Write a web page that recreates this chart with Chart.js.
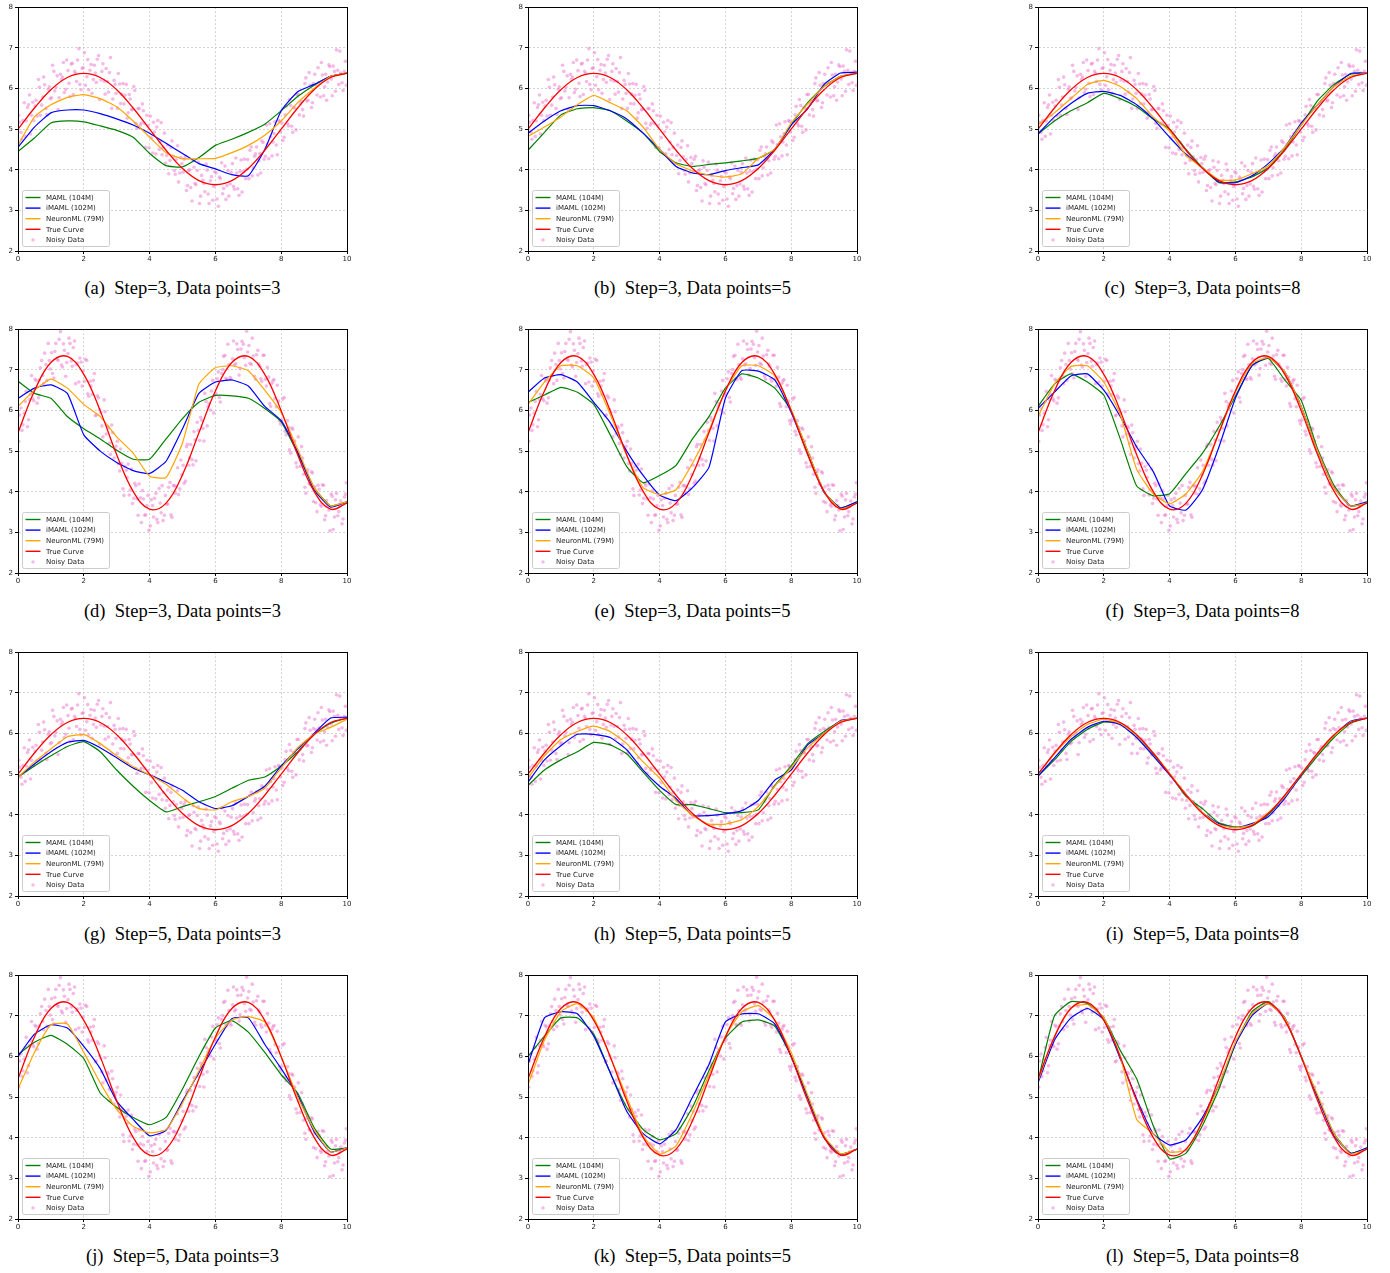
<!DOCTYPE html>
<html>
<head>
<meta charset="utf-8">
<script src="https://cdn.jsdelivr.net/npm/chart.js@4.4.1/dist/chart.umd.min.js"></script>
<style>
  body { margin: 0; background: #fff; }
  #page { position: relative; width: 1390px; height: 1273px; overflow: hidden; }
  canvas { position: absolute; }
  .cap { position: absolute; width: 400px; line-height: 20px; text-align: center;
         font-family: "Liberation Serif", "Times New Roman", serif; font-size: 18.5px;
         color: #000; white-space: pre; }
</style>
</head>
<body>
<div id="page"></div>
<script>
"use strict"

// x positions for the model / true-curve samples
const xGrid = [0, 0.5, 1, 1.5, 2, 2.5, 3, 3.5, 4, 4.5, 5, 5.5, 6, 6.5, 7, 7.5, 8, 8.5, 9, 9.5, 10];

const xTicks = [0, 2, 4, 6, 8, 10];
const yTicks = [2, 3, 4, 5, 6, 7, 8];

// true curves (rows 1,3 use A, rows 2,4 use B)
const trueA = [5.00, 5.52, 5.97, 6.27, 6.37, 6.27, 5.97, 5.52, 5.00, 4.48, 4.03, 3.73, 3.63, 3.73, 4.03, 4.48, 5.00, 5.52, 5.97, 6.27, 6.37];
const trueB = [5.45, 6.48, 7.18, 7.33, 6.89, 5.99, 4.91, 4.01, 3.57, 3.72, 4.42, 5.45, 6.48, 7.18, 7.33, 6.89, 5.99, 4.91, 4.01, 3.57, 3.72];

// noisy samples, first batch
const noiseX = [
  0.02,0.09,0.15,0.22,0.29,0.35,0.41,0.48,0.55,0.62,0.68,0.75,0.81,0.88,0.95,
  1.02,1.09,1.15,1.22,1.29,1.35,1.41,1.48,1.55,1.62,1.68,1.75,1.81,1.88,1.95,
  2.02,2.09,2.15,2.22,2.29,2.35,2.41,2.48,2.55,2.62,2.68,2.75,2.81,2.88,2.95,
  3.02,3.09,3.15,3.22,3.29,3.35,3.41,3.48,3.55,3.62,3.68,3.75,3.81,3.88,3.95,
  4.02,4.09,4.15,4.22,4.29,4.35,4.41,4.48,4.55,4.62,4.68,4.75,4.81,4.88,4.95,
  5.02,5.09,5.15,5.22,5.29,5.35,5.41,5.48,5.55,5.62,5.68,5.75,5.81,5.88,5.95,
  6.02,6.09,6.15,6.22,6.29,6.35,6.41,6.48,6.55,6.62,6.68,6.75,6.81,6.88,6.95,
  7.02,7.09,7.15,7.22,7.29,7.35,7.41,7.48,7.55,7.62,7.68,7.75,7.81,7.88,7.95,
  8.02,8.09,8.15,8.22,8.29,8.35,8.41,8.48,8.55,8.62,8.68,8.75,8.81,8.88,8.95,
  9.02,9.09,9.15,9.22,9.29,9.35,9.41,9.48,9.55,9.62,9.68,9.75,9.81,9.88,9.95
];
const noiseA = [
  5.34,4.92,5.21,4.82,5.53,5.84,5.34,5.21,5.71,6.22,5.34,5.79,6.09,5.36,6.04,
  5.77,6.42,6.03,5.48,6.35,6.28,5.90,6.70,6.13,6.60,5.85,6.37,6.70,6.10,6.49,
  6.88,6.29,5.97,6.59,6.22,6.38,6.72,5.73,6.42,6.18,6.49,5.91,6.76,5.74,6.10,
  5.51,6.11,5.86,5.62,6.10,5.40,5.74,5.48,5.95,5.02,5.50,5.15,5.45,4.55,5.09,
  5.32,4.41,4.93,5.05,4.50,5.16,4.55,4.16,4.61,4.23,4.71,3.98,4.25,3.70,4.30,
  3.94,4.33,3.61,4.00,3.23,4.06,3.63,4.19,3.35,3.74,3.46,3.99,3.17,3.83,3.59,
  3.92,3.10,3.78,3.41,4.09,3.61,3.35,3.94,3.59,4.29,3.53,3.96,3.45,4.26,4.01,
  3.78,4.56,4.05,4.39,3.87,4.40,4.71,4.26,5.10,4.27,4.81,4.68,5.18,4.37,5.19,
  5.15,4.80,5.56,5.08,5.58,4.92,5.52,5.85,5.35,5.68,5.32,6.26,5.71,6.08,5.65,
  6.35,5.84,6.14,6.64,5.82,6.35,6.16,6.54,5.82,6.42,6.95,6.10,6.38,5.95,6.67
];
const noiseB = [
  5.24,6.06,5.65,6.22,5.60,6.27,6.86,6.24,6.73,6.31,7.05,6.86,7.41,6.74,7.23,
  7.42,6.80,7.65,7.23,7.94,7.07,7.48,7.18,7.78,7.22,7.55,6.66,7.17,7.29,6.60,
  6.72,7.23,6.35,6.60,6.74,5.87,6.36,6.02,5.62,6.26,5.42,5.57,4.92,5.45,5.04,
  5.24,4.51,4.70,3.91,4.53,4.68,4.04,3.71,4.21,3.82,4.19,3.24,3.82,3.43,3.91,
  3.16,3.66,3.84,3.32,4.08,3.48,3.29,3.91,3.70,4.23,3.37,4.15,4.13,3.93,4.78,
  4.65,4.26,5.17,4.83,4.79,5.48,4.76,5.51,5.83,5.56,6.42,5.62,6.17,6.48,5.94,
  6.42,6.95,6.21,7.01,7.36,6.76,7.13,6.77,7.71,7.15,7.50,7.03,7.70,7.30,7.95,
  7.60,7.13,7.34,6.77,7.48,7.09,6.72,7.36,6.60,6.82,6.10,6.73,6.29,6.62,5.75,
  5.76,6.32,5.40,5.58,4.95,5.54,5.25,4.61,4.90,5.11,4.43,3.96,4.54,4.18,4.46,
  4.12,3.51,4.06,3.64,4.16,3.41,3.66,3.04,3.89,3.38,3.96,3.51,3.77,3.33,3.94
];

// noisy samples, second batch
const noiseX2 = [
  0.05,0.12,0.19,0.25,0.32,0.38,0.45,0.52,0.58,0.65,0.72,0.78,0.85,0.92,0.98,
  1.05,1.12,1.19,1.25,1.32,1.38,1.45,1.52,1.58,1.65,1.72,1.78,1.85,1.92,1.98,
  2.05,2.12,2.19,2.25,2.32,2.38,2.45,2.52,2.58,2.65,2.72,2.78,2.85,2.92,2.98,
  3.05,3.12,3.19,3.25,3.32,3.38,3.45,3.52,3.58,3.65,3.72,3.78,3.85,3.92,3.98,
  4.05,4.12,4.19,4.25,4.32,4.38,4.45,4.52,4.58,4.65,4.72,4.78,4.85,4.92,4.98,
  5.05,5.12,5.19,5.25,5.32,5.38,5.45,5.52,5.58,5.65,5.72,5.78,5.85,5.92,5.98,
  6.05,6.12,6.19,6.25,6.32,6.38,6.45,6.52,6.58,6.65,6.72,6.78,6.85,6.92,6.98,
  7.05,7.12,7.19,7.25,7.32,7.38,7.45,7.52,7.58,7.65,7.72,7.78,7.85,7.92,7.98,
  8.05,8.12,8.19,8.25,8.32,8.38,8.45,8.52,8.58,8.65,8.72,8.78,8.85,8.92,8.98,
  9.05,9.12,9.19,9.25,9.32,9.38,9.45,9.52,9.58,9.65,9.72,9.78,9.85,9.92,9.98
];
const noiseA2 = [
  5.17,4.75,5.65,5.20,5.60,4.88,5.66,5.57,5.32,6.03,5.59,6.28,5.51,5.98,5.75,
  6.57,5.94,6.31,5.77,6.22,6.64,5.98,6.44,5.80,6.62,6.42,6.17,6.98,5.97,6.51,
  6.08,6.71,6.45,5.88,6.57,6.15,6.81,6.21,6.61,5.86,6.17,6.39,5.51,6.20,5.88,
  6.37,5.63,6.12,5.83,5.27,5.85,5.48,6.05,5.14,5.51,5.10,5.62,5.14,5.34,4.54,
  4.79,5.17,4.39,5.21,4.68,4.37,4.90,4.35,3.90,4.55,4.32,3.89,4.59,3.92,4.15,
  4.26,3.49,3.98,3.56,4.22,3.66,3.98,3.17,3.86,3.66,4.14,3.40,3.73,3.25,3.95,
  3.28,3.82,4.17,3.54,3.27,3.98,3.65,4.15,3.52,3.92,3.37,4.24,3.96,3.78,4.25,
  4.48,3.85,4.33,4.56,4.22,3.92,4.67,4.33,4.62,5.13,4.34,4.89,4.61,5.21,4.93,
  4.72,5.35,5.14,5.73,5.07,5.53,4.98,5.85,5.62,5.48,6.12,5.69,6.39,5.53,6.12,
  6.09,6.51,5.79,6.33,6.04,5.71,6.58,6.23,6.55,5.93,6.45,6.92,6.14,6.42,6.08
];
const noiseB2 = [
  5.89,5.51,5.93,6.47,5.77,6.40,6.29,6.77,6.18,6.75,7.23,6.66,7.13,7.65,7.02,
  6.91,7.45,7.26,7.75,7.12,7.64,6.84,7.40,7.65,7.09,7.71,7.13,6.70,7.19,6.97,
  7.26,6.41,6.72,6.40,6.91,5.89,6.31,5.95,5.35,5.97,5.61,5.19,5.64,4.83,5.12,
  4.69,5.05,4.07,4.62,4.35,3.92,4.56,3.84,4.15,3.42,3.85,4.03,3.42,3.66,3.05,
  3.80,3.38,3.96,3.24,3.72,4.15,3.42,3.69,4.11,3.43,4.15,3.96,4.59,4.07,4.42,
  4.21,5.11,4.65,5.16,4.66,5.28,5.71,5.26,5.76,5.25,6.22,6.10,6.01,6.74,6.37,
  6.78,6.32,6.91,7.33,6.79,7.63,6.81,7.27,7.12,7.64,6.87,7.51,7.63,7.11,7.44,
  7.16,7.78,6.84,7.37,7.14,6.78,7.36,6.77,7.06,6.17,6.67,6.76,6.09,6.23,5.67,
  6.28,5.49,5.75,5.03,5.57,5.23,4.71,5.35,4.62,4.83,4.11,4.48,4.20,4.49,3.76,
  3.73,4.16,3.68,4.17,3.31,3.78,3.55,3.94,3.07,3.80,3.41,3.65,3.21,3.87,4.22
];

// model predictions per panel (a..l), sampled on xGrid
const mamlY = [
  [4.45,4.78,5.15,5.2,5.18,5.08,4.97,4.8,4.4,4.1,4.07,4.3,4.6,4.75,4.92,5.12,5.45,5.8,6.08,6.3,6.38],
  [4.48,4.92,5.35,5.5,5.53,5.45,5.2,4.9,4.45,4.17,4.08,4.13,4.17,4.22,4.28,4.5,5.1,5.65,6.05,6.3,6.37],
  [4.88,5.2,5.45,5.65,5.88,5.75,5.55,5.25,5.0,4.5,4.05,3.68,3.7,3.82,4.05,4.5,5.1,5.7,6.1,6.35,6.37],
  [6.72,6.42,6.3,5.85,5.55,5.3,5.02,4.8,4.8,5.3,5.8,6.2,6.37,6.36,6.3,6.05,5.72,4.95,4.1,3.65,3.75],
  [6.2,6.38,6.57,6.45,6.15,5.4,4.62,4.22,4.4,4.65,5.3,5.85,6.55,6.9,6.8,6.55,6.0,5.0,4.0,3.6,3.75],
  [6.1,6.65,6.9,6.7,6.38,5.3,4.14,3.9,3.95,4.45,4.95,5.6,6.35,7.1,7.28,6.75,6.25,5.05,4.15,3.65,3.72],
  [4.93,5.2,5.45,5.68,5.8,5.55,5.1,4.7,4.35,4.07,4.2,4.32,4.45,4.65,4.85,4.93,5.2,5.55,5.98,6.25,6.38],
  [4.72,5.1,5.35,5.55,5.78,5.72,5.5,5.05,4.6,4.25,4.25,4.15,4.05,4.05,4.12,4.72,5.2,5.75,6.05,6.3,6.38],
  [4.95,5.35,5.8,6.1,6.28,6.25,5.95,5.5,5.0,4.45,4.15,3.8,3.7,3.72,4.0,4.45,4.95,5.45,5.9,6.25,6.38],
  [6.05,6.35,6.52,6.3,5.95,5.1,4.75,4.5,4.32,4.5,5.2,6.0,6.7,6.88,6.6,6.1,5.55,5.1,4.25,3.72,3.75],
  [6.0,6.5,6.95,6.95,6.55,5.6,4.75,4.2,3.95,4.1,4.75,5.65,6.45,6.85,6.9,6.75,6.0,5.0,4.0,3.6,3.72],
  [5.4,7.0,7.35,7.3,6.95,6.15,5.45,4.3,3.48,3.62,4.3,5.2,6.3,7.1,7.35,6.95,6.0,5.0,4.1,3.62,3.75]
];
const imamlY = [
  [4.55,5.05,5.4,5.47,5.47,5.38,5.25,5.1,4.9,4.65,4.4,4.15,4.02,3.88,3.85,4.5,5.45,5.92,6.1,6.3,6.38],
  [4.9,5.2,5.45,5.58,5.58,5.45,5.25,4.9,4.5,4.08,3.92,3.88,3.98,4.05,4.12,4.5,5.1,5.5,6.1,6.38,6.4],
  [4.88,5.3,5.63,5.88,5.93,5.83,5.6,5.25,4.8,4.38,4.05,3.7,3.68,3.85,4.15,4.55,5.15,5.6,6.05,6.37,6.38],
  [6.3,6.55,6.63,6.42,5.4,5.0,4.72,4.52,4.45,4.75,5.55,6.42,6.7,6.75,6.6,6.1,5.75,4.98,4.05,3.62,3.75],
  [6.45,6.8,6.88,6.7,6.2,5.7,5.0,4.4,3.92,3.78,4.1,4.6,6.3,6.98,6.97,6.75,5.95,4.95,3.98,3.6,3.75],
  [6.05,6.45,6.85,6.9,6.5,5.85,5.1,4.5,3.65,3.55,4.05,5.1,6.3,7.1,7.3,6.95,6.1,5.0,4.1,3.65,3.75],
  [4.93,5.25,5.55,5.78,5.83,5.65,5.4,5.15,4.98,4.8,4.6,4.32,4.15,4.22,4.45,4.7,5.2,5.62,6.0,6.38,6.4],
  [4.8,5.35,5.7,5.98,5.98,5.9,5.6,5.1,4.7,4.4,3.98,3.98,4.02,4.1,4.35,4.85,5.1,5.72,6.0,6.32,6.37],
  [4.95,5.4,5.85,6.15,6.3,6.22,5.9,5.45,4.98,4.5,4.05,3.78,3.68,3.78,3.95,4.4,4.98,5.5,5.95,6.3,6.38],
  [6.0,6.55,6.78,6.7,6.25,5.7,4.9,4.45,4.05,4.18,4.9,5.6,6.3,6.93,6.95,6.3,5.7,5.05,4.15,3.65,3.75],
  [5.8,6.95,7.1,7.05,6.5,5.6,4.65,4.1,3.85,4.2,5.0,5.8,6.85,7.05,7.05,6.8,6.0,5.0,4.0,3.58,3.72],
  [5.35,6.4,6.95,7.18,6.9,5.95,4.95,4.1,3.82,3.95,4.5,5.3,6.3,7.0,7.3,6.95,6.0,5.0,4.05,3.62,3.75]
];
const neuronY = [
  [4.6,5.3,5.6,5.78,5.85,5.75,5.55,5.2,4.8,4.42,4.27,4.27,4.28,4.42,4.6,4.85,5.2,5.65,6.0,6.3,6.38],
  [4.82,5.05,5.3,5.6,5.83,5.65,5.45,5.05,4.5,4.15,3.97,3.87,3.82,3.9,4.28,4.5,5.15,5.62,6.05,6.3,6.38],
  [5.1,5.4,5.75,6.1,6.2,6.05,5.75,5.3,4.95,4.35,4.05,3.75,3.75,3.9,4.1,4.55,5.1,5.6,6.05,6.3,6.38],
  [6.1,6.5,6.77,6.55,6.15,5.85,5.35,4.95,4.38,4.35,5.2,6.65,7.05,7.1,6.98,6.5,5.95,5.05,4.1,3.65,3.75],
  [6.15,6.7,7.1,7.1,6.8,5.9,4.9,4.1,3.93,4.05,4.7,5.5,6.5,7.1,7.1,6.85,6.02,5.0,4.0,3.58,3.72],
  [5.85,6.65,7.08,7.1,6.7,5.9,4.55,3.95,3.7,3.95,4.5,5.45,6.45,7.15,7.3,6.95,6.1,5.0,4.1,3.65,3.72],
  [4.92,5.3,5.62,5.92,5.97,5.75,5.45,5.18,4.98,4.75,4.42,4.15,4.12,4.32,4.45,4.65,5.15,5.65,5.98,6.15,6.35],
  [4.9,5.45,5.85,6.05,6.18,6.05,5.75,5.3,4.9,4.35,3.98,3.77,3.77,3.88,4.2,4.7,5.15,5.65,6.0,6.3,6.38],
  [5.0,5.5,5.92,6.22,6.35,6.25,5.95,5.52,5.02,4.5,4.05,3.75,3.68,3.75,4.05,4.45,5.0,5.5,5.95,6.28,6.38],
  [5.2,6.1,6.78,6.8,6.1,5.35,4.7,4.28,4.12,4.2,4.85,5.65,6.45,6.9,6.98,6.85,6.0,5.0,4.2,3.65,3.75],
  [5.3,6.4,7.1,7.3,6.95,6.0,5.0,4.05,3.6,3.8,4.6,5.55,6.5,7.1,7.25,6.9,6.1,5.05,4.05,3.6,3.72],
  [5.4,6.5,7.2,7.28,6.95,6.0,4.45,4.1,3.65,3.7,4.4,5.3,6.35,7.05,7.3,6.95,6.0,5.05,4.1,3.6,3.72]
];

const curveType = ["A","A","A","B","B","B","A","A","A","B","B","B"];

const captions = [
  "(a)  Step=3, Data points=3", "(b)  Step=3, Data points=5", "(c)  Step=3, Data points=8",
  "(d)  Step=3, Data points=3", "(e)  Step=3, Data points=5", "(f)  Step=3, Data points=8",
  "(g)  Step=5, Data points=3", "(h)  Step=5, Data points=5", "(i)  Step=5, Data points=8",
  "(j)  Step=5, Data points=3", "(k)  Step=5, Data points=5", "(l)  Step=5, Data points=8"
];

// page layout (plot-area corners)
const plotLefts = [18, 528, 1038];
const plotTops = [7, 329, 652, 975];
const captionY = [288, 611, 934, 1256];
const plotW = 329, plotH = 244;

const tickFont = { family: "DejaVu Sans", size: 7 };

function pts(xs, ys) {
  return xs.map((x, i) => ({ x: x, y: ys[i] }));
}

// legend box + top/right spines
const panelDecor = {
  id: "panelDecor",
  afterDraw(chart) {
    const a = chart.chartArea;
    const ctx = chart.ctx;
    ctx.save();
    const bx = a.left + 4.5, by = a.bottom - 60.5, bw = 87, bh = 56;
    ctx.fillStyle = "rgba(255,255,255,0.8)";
    ctx.strokeStyle = "#cccccc";
    ctx.lineWidth = 1;
    ctx.beginPath();
    ctx.roundRect(bx, by, bw, bh, 2);
    ctx.fill();
    ctx.stroke();
    ctx.font = "7px 'DejaVu Sans'";
    ctx.textBaseline = "middle";
    chart.data.datasets.forEach((ds, i) => {
      const ry = by + 7 + i * 10.6;
      if (ds.showLine === false) {
        ctx.fillStyle = ds.backgroundColor;
        ctx.beginPath();
        ctx.arc(bx + 10.5, ry, 1.7, 0, Math.PI * 2);
        ctx.fill();
      } else {
        ctx.strokeStyle = ds.borderColor;
        ctx.lineWidth = 1.4;
        ctx.beginPath();
        ctx.moveTo(bx + 3, ry);
        ctx.lineTo(bx + 18, ry);
        ctx.stroke();
      }
      ctx.fillStyle = "#1a1a1a";
      ctx.fillText(ds.label, bx + 23.5, ry + 0.5);
    });
    ctx.strokeStyle = "#000";
    ctx.lineWidth = 1;
    ctx.strokeRect(Math.round(a.left) + 0.5, Math.round(a.top) + 0.5,
                   Math.round(a.right - a.left), Math.round(a.bottom - a.top));
    ctx.restore();
  }
};

const page = document.getElementById("page");

for (let p = 0; p < 12; p++) {
  const col = p % 3, row = Math.floor(p / 3);
  const left = plotLefts[col], top = plotTops[row];

  const cv = document.createElement("canvas");
  cv.width = 18 + plotW + 8;
  cv.height = 6 + plotH + 16;
  cv.style.left = (left - 18) + "px";
  cv.style.top = (top - 6) + "px";
  page.appendChild(cv);

  const trueY = curveType[p] === "A" ? trueA : trueB;
  const noiseY = curveType[p] === "A" ? noiseA : noiseB;
  const noiseY2 = curveType[p] === "A" ? noiseA2 : noiseB2;

  new Chart(cv.getContext("2d"), {
    type: "line",
    data: {
      datasets: [
        { label: "MAML (104M)", data: pts(xGrid, mamlY[p]), borderColor: "#008000",
          borderWidth: 1.2, pointRadius: 0, tension: 0.15, order: 4 },
        { label: "iMAML (102M)", data: pts(xGrid, imamlY[p]), borderColor: "#0000ff",
          borderWidth: 1.2, pointRadius: 0, tension: 0.15, order: 3 },
        { label: "NeuronML (79M)", data: pts(xGrid, neuronY[p]), borderColor: "#ffa500",
          borderWidth: 1.2, pointRadius: 0, tension: 0.15, order: 2 },
        { label: "True Curve", data: pts(xGrid, trueY), borderColor: "#ff0000",
          borderWidth: 1.3, pointRadius: 0, tension: 0.4, order: 1 },
        { label: "Noisy Data",
          data: pts(noiseX, noiseY).concat(pts(noiseX2, noiseY2)), showLine: false,
          backgroundColor: "rgba(236,128,208,0.55)", borderWidth: 0,
          pointRadius: 1.8, order: 10 }
      ]
    },
    options: {
      responsive: false,
      animation: false,
      devicePixelRatio: 1,
      layout: { padding: { top: 6, right: 8, left: 0, bottom: 0 } },
      plugins: { legend: { display: false }, tooltip: { enabled: false } },
      scales: {
        x: {
          type: "linear", min: 0, max: 10,
          afterFit: s => { s.height = 16; },
          afterBuildTicks: s => { s.ticks = xTicks.map(v => ({ value: v })); },
          ticks: { font: tickFont, color: "#222", padding: 1, maxRotation: 0 },
          grid: { color: "#c8c8c8", lineWidth: 0.8, tickLength: 3, tickColor: "#000",
                  tickWidth: 1, tickBorderDash: [] },
          border: { color: "#000", width: 1, dash: [2, 2] }
        },
        y: {
          type: "linear", min: 2, max: 8,
          afterFit: s => { s.width = 18; },
          afterBuildTicks: s => { s.ticks = yTicks.map(v => ({ value: v })); },
          ticks: { font: tickFont, color: "#222", padding: 2 },
          grid: { color: "#c8c8c8", lineWidth: 0.8, tickLength: 3, tickColor: "#000",
                  tickWidth: 1, tickBorderDash: [] },
          border: { color: "#000", width: 1, dash: [2, 2] }
        }
      }
    },
    plugins: [panelDecor]
  });

  const cap = document.createElement("div");
  cap.className = "cap";
  cap.textContent = captions[p];
  cap.style.left = (left + plotW / 2 - 200) + "px";
  cap.style.top = (captionY[row] - 10) + "px";
  page.appendChild(cap);
}
</script>
</body>
</html>
